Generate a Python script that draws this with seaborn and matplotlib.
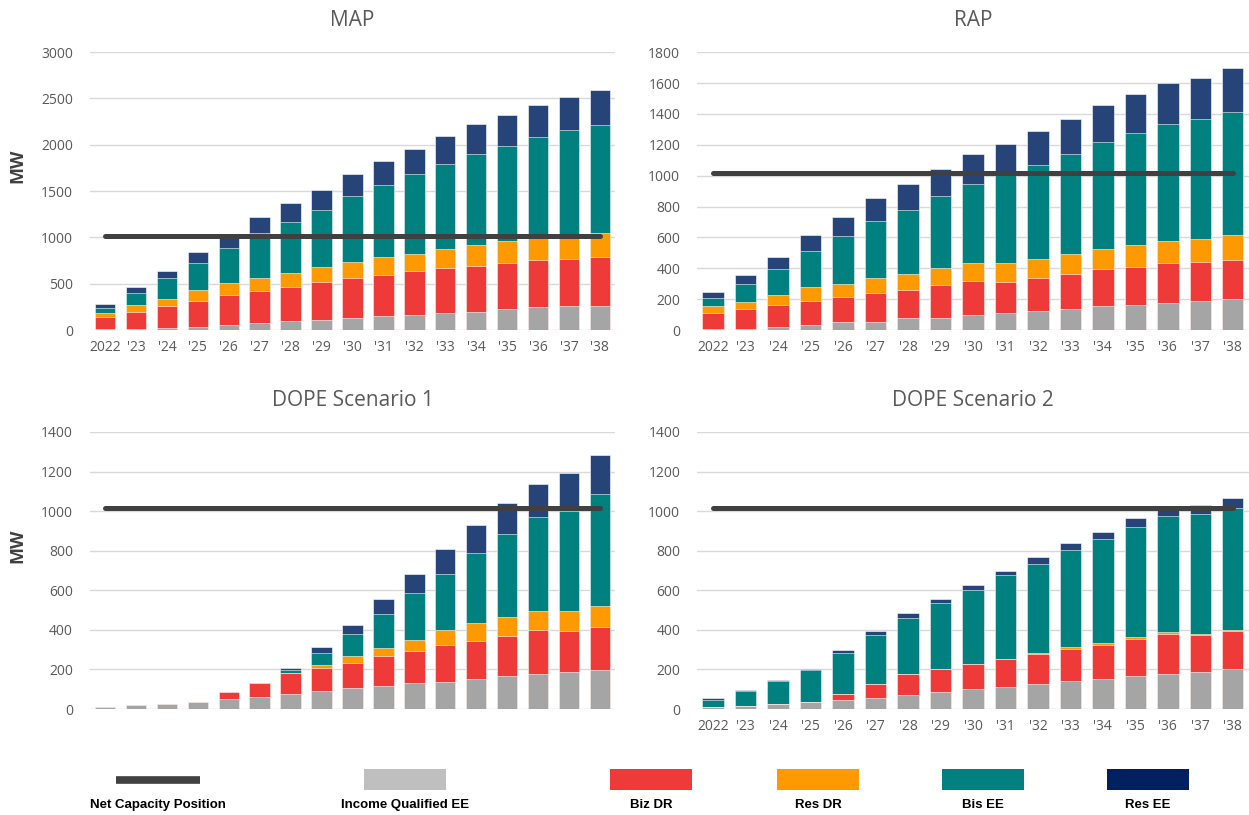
import numpy as np
import pandas as pd
import matplotlib.pyplot as plt
import seaborn as sns
from matplotlib.patches import Rectangle
from matplotlib.lines import Line2D

# === Data (MW) ===
years = ["2022", "'23", "'24", "'25", "'26", "'27", "'28", "'29", "'30",
         "'31", "'32", "'33", "'34", "'35", "'36", "'37", "'38"]
series = ["Income Qualified EE", "Biz DR", "Res DR", "Bis EE", "Res EE"]

# MAP
map_iq_ee = [8, 15, 20, 35, 50, 80, 95, 110, 135, 150, 165, 180, 195, 225, 245, 255, 260]
map_biz_dr = [130, 185, 240, 280, 325, 340, 365, 410, 430, 445, 470, 490, 500, 500, 510, 515, 525]
map_res_dr = [45, 70, 80, 115, 130, 145, 160, 160, 175, 190, 190, 200, 220, 235, 240, 230, 265]
map_bis_ee = [55, 125, 225, 290, 385, 485, 545, 620, 705, 780, 855, 925, 990, 1025, 1090, 1165, 1165]
map_res_ee = [45, 65, 70, 120, 135, 175, 205, 215, 235, 260, 275, 295, 320, 340, 340, 350, 375]
map_net = 1015

# RAP
rap_iq_ee = [5, 10, 20, 30, 50, 55, 75, 80, 100, 110, 125, 135, 155, 165, 175, 190, 200]
rap_biz_dr = [105, 125, 140, 160, 165, 185, 185, 215, 220, 200, 215, 230, 240, 245, 260, 250, 255]
rap_res_dr = [45, 50, 70, 90, 85, 95, 105, 105, 115, 125, 120, 130, 130, 140, 140, 150, 160]
rap_bis_ee = [55, 115, 165, 235, 310, 370, 415, 470, 510, 585, 610, 645, 690, 725, 760, 775, 795]
rap_res_ee = [35, 55, 80, 100, 125, 150, 165, 175, 195, 185, 220, 230, 245, 255, 265, 270, 285]
rap_net = 1015

# DOPE Scenario 1
dope1_iq_ee = [12, 20, 28, 35, 50, 62, 77, 90, 105, 118, 130, 138, 152, 165, 178, 185, 198]
dope1_biz_dr = [0, 0, 0, 0, 34, 68, 103, 118, 130, 150, 165, 185, 193, 205, 220, 208, 215]
dope1_res_dr = [0, 0, 0, 0, 0, 0, 3, 15, 35, 42, 55, 75, 90, 95, 95, 100, 107]
dope1_bis_ee = [0, 0, 0, 0, 0, 0, 16, 60, 108, 170, 235, 285, 355, 420, 475, 510, 565]
dope1_res_ee = [0, 0, 0, 0, 0, 0, 9, 29, 47, 75, 96, 124, 138, 156, 168, 190, 198]
dope1_net = 1015

# DOPE Scenario 2
dope2_iq_ee = [8, 15, 25, 38, 45, 58, 72, 85, 100, 113, 127, 140, 153, 167, 175, 188, 200]
dope2_biz_dr = [0, 0, 0, 0, 33, 70, 104, 118, 126, 138, 153, 165, 173, 188, 206, 186, 193]
dope2_res_dr = [0, 0, 0, 0, 0, 0, 0, 0, 0, 0, 5, 8, 8, 8, 8, 7, 8]
dope2_bis_ee = [39, 75, 118, 157, 206, 245, 285, 335, 375, 424, 450, 491, 525, 558, 587, 602, 616]
dope2_res_ee = [7, 8, 6, 7, 13, 20, 22, 18, 26, 25, 33, 33, 34, 42, 32, 47, 47]
dope2_net = 1015

bar_colors = ["#A5A5A5", "#EE3A38", "#FF9900", "#00807F", "#264478"]
legend_colors = ["#BFBFBF", "#EE3A38", "#FF9900", "#00807F", "#002060"]
line_color = "#404040"
text_gray = "#595959"
grid_gray = "#D9D9D9"

panels = [
    ("MAP", [map_iq_ee, map_biz_dr, map_res_dr, map_bis_ee, map_res_ee], map_net, 3000, 500),
    ("RAP", [rap_iq_ee, rap_biz_dr, rap_res_dr, rap_bis_ee, rap_res_ee], rap_net, 1800, 200),
    ("DOPE Scenario 1", [dope1_iq_ee, dope1_biz_dr, dope1_res_dr, dope1_bis_ee, dope1_res_ee], dope1_net, 1400, 200),
    ("DOPE Scenario 2", [dope2_iq_ee, dope2_biz_dr, dope2_res_dr, dope2_bis_ee, dope2_res_ee], dope2_net, 1400, 200),
]

# axes boxes [left, bottom, width, height] in figure fractions
boxes = [
    [0.0717, 0.595, 0.421, 0.341],
    [0.558, 0.595, 0.442, 0.341],
    [0.0717, 0.130, 0.421, 0.340],
    [0.558, 0.130, 0.442, 0.340],
]
show_xlabels = [True, True, False, True]
show_mw = [True, False, True, False]

sns.set_style("white")
plt.rcParams["font.family"] = ["Open Sans", "DejaVu Sans"]

fig = plt.figure(figsize=(12.49, 8.15), dpi=100)

for (title, segs, net, ymax, step), box, xl, mw in zip(panels, boxes, show_xlabels, show_mw):
    ax = fig.add_axes(box)
    df = pd.DataFrame(np.array(segs).T, columns=series)
    df.insert(0, "year", years)
    tops = df[series].cumsum(axis=1)

    # stacked bars: draw cumulative totals from the top series down
    for s, c in reversed(list(zip(series, bar_colors))):
        sns.barplot(x=df["year"], y=tops[s], color=c, saturation=1, width=0.66,
                    edgecolor="white", linewidth=0.4, ax=ax, zorder=2)

    sns.lineplot(x=years, y=[net] * len(years), color=line_color, linewidth=3.6,
                 solid_capstyle="round", ax=ax, zorder=3)

    ax.set_xlim(-0.5, len(years) - 0.5)
    ax.set_ylim(0, ymax)
    ax.set_yticks(np.arange(0, ymax + 1, step))
    ax.yaxis.grid(True, color=grid_gray, linewidth=1.0, zorder=0)
    ax.xaxis.grid(False)
    ax.set_axisbelow(True)
    for sp in ax.spines.values():
        sp.set_visible(False)
    ax.tick_params(axis="both", length=0, labelsize=10, labelcolor=text_gray)
    ax.tick_params(axis="y", pad=12)
    ax.tick_params(axis="x", pad=7)
    if not xl:
        ax.set_xticklabels([])
    ax.set_xlabel("")
    if mw:
        ax.set_ylabel("MW", fontsize=13, fontweight="bold", color=line_color)
        ax.yaxis.set_label_coords(-0.12, 0.59)
    else:
        ax.set_ylabel("")
    ax.set_title(title, fontsize=15, color=text_gray, pad=19)

# === Legend (handles above labels, like the Excel layout) ===
leg = fig.add_axes([0, 0, 1, 0.09])
leg.set_xlim(0, 1249)
leg.set_ylim(0, 73)
leg.axis("off")
leg_x = [158, 405, 651, 818, 983, 1148]
leg_labels = ["Net Capacity Position"] + series
leg.add_line(Line2D([leg_x[0] - 42, leg_x[0] + 42], [35, 35], color=line_color,
                    linewidth=5.5, solid_capstyle="butt"))
for x, c in zip(leg_x[1:], legend_colors):
    leg.add_patch(Rectangle((x - 41, 25), 82, 21, facecolor=c, edgecolor="none"))
for x, lab in zip(leg_x, leg_labels):
    leg.text(x, 10, lab, ha="center", va="center", fontsize=9.5, fontweight="bold",
             color="black", family=["Liberation Sans Narrow", "Liberation Sans", "DejaVu Sans"])

fig.savefig("out.png", dpi=100)
